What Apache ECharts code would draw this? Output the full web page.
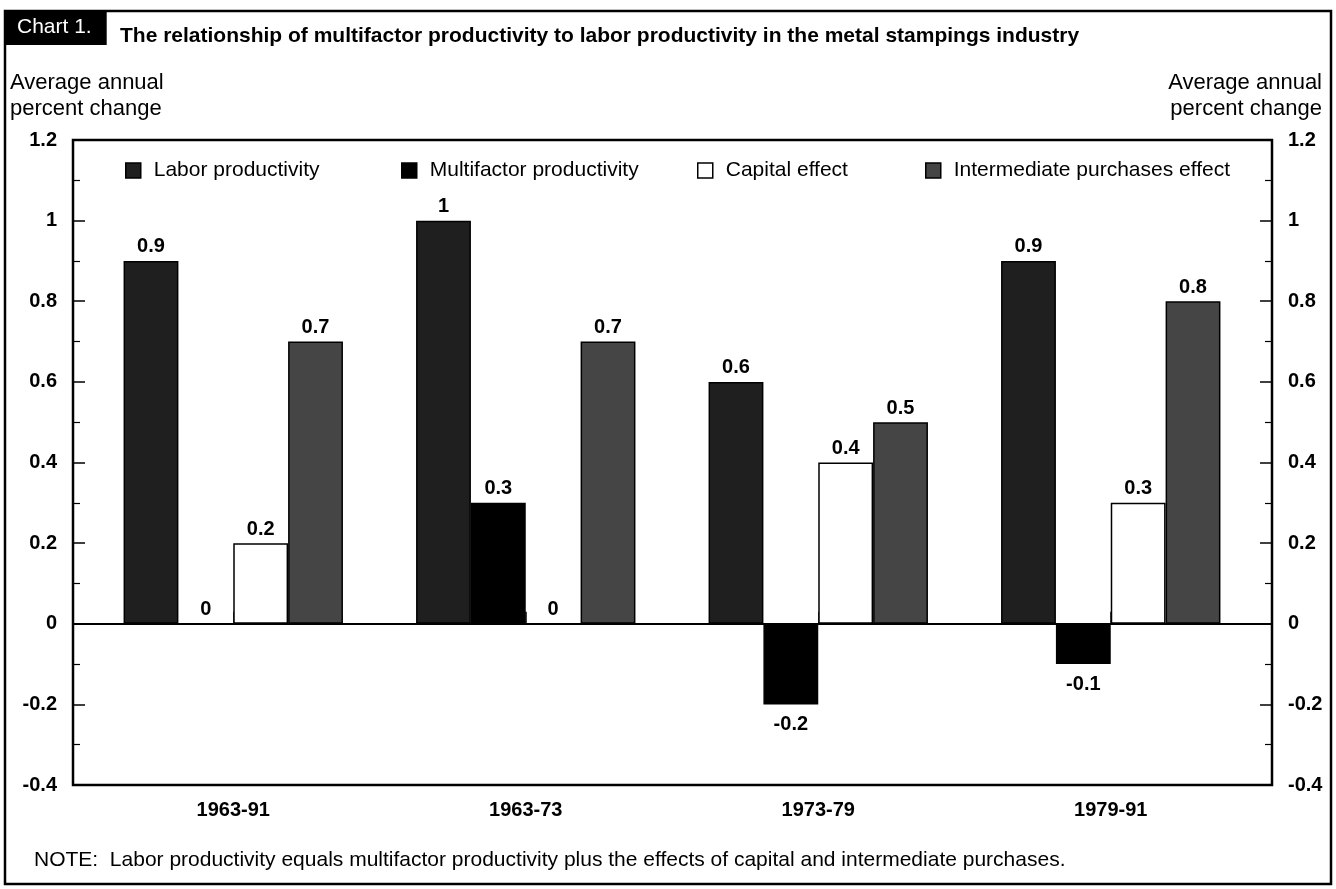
<!DOCTYPE html>
<html>
<head>
<meta charset="utf-8">
<script src="https://cdn.jsdelivr.net/npm/echarts@6/dist/echarts.min.js"></script>
<style>
html,body{margin:0;padding:0;background:#fff;}
#chart{width:1336px;height:889px;}
</style>
</head>
<body>
<div id="chart"></div>
<script>
const categories = ['1963-91', '1963-73', '1973-79', '1979-91'];
const laborProductivity = [0.9, 1, 0.6, 0.9];
const multifactorProductivity = [0, 0.3, -0.2, -0.1];
const capitalEffect = [0.2, 0, 0.4, 0.3];
const intermediateEffect = [0.7, 0.7, 0.5, 0.8];
const seriesNames = ['Labor productivity', 'Multifactor productivity', 'Capital effect', 'Intermediate purchases effect'];
const yMin = -0.4, yMax = 1.2, yStep = 0.2;

const FONT = '"Liberation Sans", Arial, Helvetica, sans-serif';
const chart = echarts.init(document.getElementById('chart'), null, {renderer: 'canvas'});

function toData(arr) {
  return arr.map(v => ({
    value: v,
    label: v < 0 ? {position: 'bottom', distance: 10} : {position: 'top', distance: 4}
  }));
}

const colors = ['#1f1f1f', '#000000', '#ffffff', '#454545'];
const valueArrays = [laborProductivity, multifactorProductivity, capitalEffect, intermediateEffect];

const series = seriesNames.map((name, i) => ({
  name: name,
  type: 'bar',
  xAxisIndex: 1,
  yAxisIndex: 2,
  barGap: '0%',
  barCategoryGap: '25%',
  data: toData(valueArrays[i]),
  itemStyle: {color: colors[i], borderColor: '#000', borderWidth: 1.5},
  label: {show: true, color: '#000', fontSize: 20, fontWeight: 'bold', fontFamily: FONT},
  emphasis: {disabled: true}
}));

const legendLefts = [125, 401, 697, 925];
const legends = seriesNames.map((name, i) => ({
  data: [name],
  left: legendLefts[i],
  top: 160,
  icon: 'rect',
  itemWidth: 15,
  itemHeight: 15,
  padding: 0,
  selectedMode: false,
  itemStyle: {borderColor: '#000', borderWidth: 1.5},
  textStyle: {fontSize: 21, color: '#000', fontFamily: FONT, padding: [0, 0, 0, 8]}
}));

const yAxisCommon = {
  type: 'value', gridIndex: 0, min: yMin, max: yMax, interval: yStep,
  axisLine: {show: false},
  axisTick: {show: true, inside: true, length: 12, lineStyle: {color: '#000', width: 1.5}},
  minorTick: {show: true, splitNumber: 2, length: 7, lineStyle: {color: '#000', width: 1.2}},
  splitLine: {show: false},
  axisLabel: {color: '#000', fontSize: 20, fontWeight: 'bold', fontFamily: FONT, margin: 16,
    formatter: v => String(Math.round(v * 10) / 10)}
};

const option = {
  backgroundColor: '#fff',
  animation: false,
  textStyle: {fontFamily: FONT},
  title: [
    {text: 'Chart 1.', left: 5, top: 11, padding: [6, 15, 7, 12], backgroundColor: '#000',
      textStyle: {color: '#fff', fontSize: 21, fontWeight: 'normal', fontFamily: FONT}},
    {text: 'The relationship of multifactor productivity to labor productivity in the metal stampings industry',
      left: 120, top: 26, padding: 0,
      textStyle: {color: '#000', fontSize: 21, fontWeight: 'bold', fontFamily: FONT}},
    {text: 'Average annual\npercent change', left: 10, top: 70, padding: 0,
      textStyle: {color: '#000', fontSize: 22, fontWeight: 'normal', lineHeight: 26, fontFamily: FONT}},
    {text: 'Average annual\npercent change', left: 1322, top: 70, padding: 0, textAlign: 'right',
      textStyle: {color: '#000', fontSize: 22, fontWeight: 'normal', lineHeight: 26, fontFamily: FONT, align: 'right'}},
    {text: 'NOTE:  Labor productivity equals multifactor productivity plus the effects of capital and intermediate purchases.',
      left: 34, top: 850, padding: 0,
      textStyle: {color: '#000', fontSize: 21, fontWeight: 'normal', fontFamily: FONT}}
  ],
  legend: legends,
  grid: [
    {left: 73, right: 64, top: 140, bottom: 104, show: true, borderColor: '#000', borderWidth: 2.5, backgroundColor: 'transparent'},
    {left: 87, right: 79, top: 140, bottom: 104}
  ],
  xAxis: [
    {type: 'value', gridIndex: 0, min: 0, max: 1,
      axisLine: {show: true, onZero: true, lineStyle: {color: '#000', width: 2}},
      axisTick: {show: false}, axisLabel: {show: false}, splitLine: {show: false}},
    {type: 'category', gridIndex: 1, data: categories,
      axisLine: {show: false},
      axisTick: {show: true, inside: true, alignWithLabel: true, length: 12, lineStyle: {color: '#000', width: 1.5}},
      axisLabel: {color: '#000', fontSize: 20, fontWeight: 'bold', fontFamily: FONT, margin: 15},
      splitLine: {show: false}}
  ],
  yAxis: [
    Object.assign({}, yAxisCommon, {position: 'left'}),
    Object.assign({}, yAxisCommon, {position: 'right'}),
    {type: 'value', gridIndex: 1, min: yMin, max: yMax, interval: yStep, show: false}
  ],
  graphic: [
    {type: 'rect', shape: {x: 5, y: 11, width: 1326, height: 873}, silent: true, z: -1,
      style: {fill: 'none', stroke: '#000', lineWidth: 2.5}}
  ],
  series: series
};

chart.setOption(option);
</script>
</body>
</html>
